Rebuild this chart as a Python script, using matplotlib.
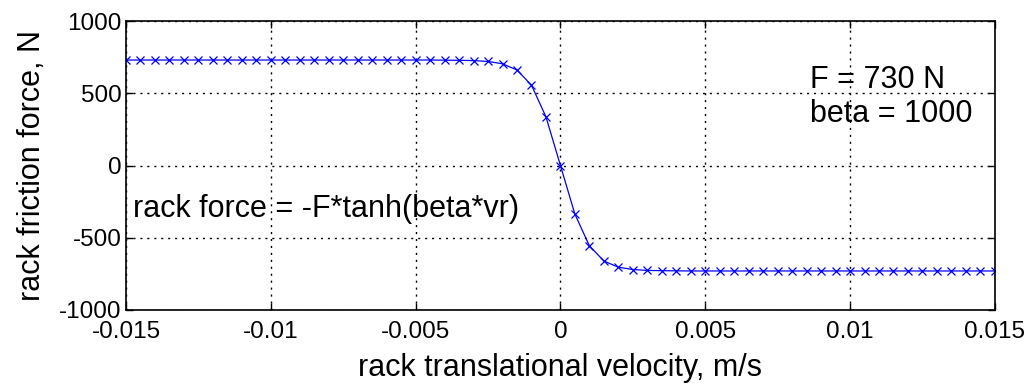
import matplotlib
matplotlib.use("Agg")
import matplotlib.pyplot as plt

# velocity samples (m/s), one marker every 0.0005
vr = [round(-0.015 + 0.0005 * i, 4) for i in range(61)]
# force values (N), left half (v < 0)
force_left = [730] * 22 + [729, 728, 726, 720, 704, 661, 556, 337]
force = force_left + [0] + [-f for f in reversed(force_left)]

xticks = [-0.015, -0.01, -0.005, 0, 0.005, 0.01, 0.015]
xticklabels = ["-0.015", "-0.01", "-0.005", "0", "0.005", "0.01", "0.015"]
yticks = [-1000, -500, 0, 500, 1000]

plt.rcParams['font.family'] = ['Liberation Sans', 'DejaVu Sans']
plt.rcParams['axes.unicode_minus'] = False

fig = plt.figure(figsize=(10.27, 3.87), dpi=100)
ax = fig.add_axes([0.1227, 0.199, 0.846, 0.7467])
ax.plot(vr, force, color='#0000ff', lw=0.9, marker='x', ms=6, mew=0.9)
ax.set_xlim(-0.015, 0.015)
ax.set_ylim(-1000, 1000)
ax.set_xticks(xticks)
ax.set_xticklabels(xticklabels)
ax.set_yticks(yticks)
ax.tick_params(direction='in', length=5, width=1, top=True, right=True,
               labelsize=17.5, colors='black')
ax.tick_params(axis='x', pad=8)
ax.tick_params(axis='y', pad=3)
ax.grid(True, color='black', linestyle=(0, (1.5, 3.5)), linewidth=1.0)
for s in ax.spines.values():
    s.set_linewidth(1.2)
ax.set_xlabel("rack translational velocity, m/s", fontsize=22, labelpad=7)
ax.set_ylabel("rack friction force, N", fontsize=22, labelpad=9)
ax.text(0.787, 0.768, "F = 730 N", transform=ax.transAxes, fontsize=22, va='baseline')
ax.text(0.787, 0.650, "beta = 1000", transform=ax.transAxes, fontsize=22, va='baseline')
ax.text(0.008, 0.322, "rack force = -F*tanh(beta*vr)", transform=ax.transAxes,
        fontsize=22, va='baseline')
fig.savefig("out.png", dpi=100)
